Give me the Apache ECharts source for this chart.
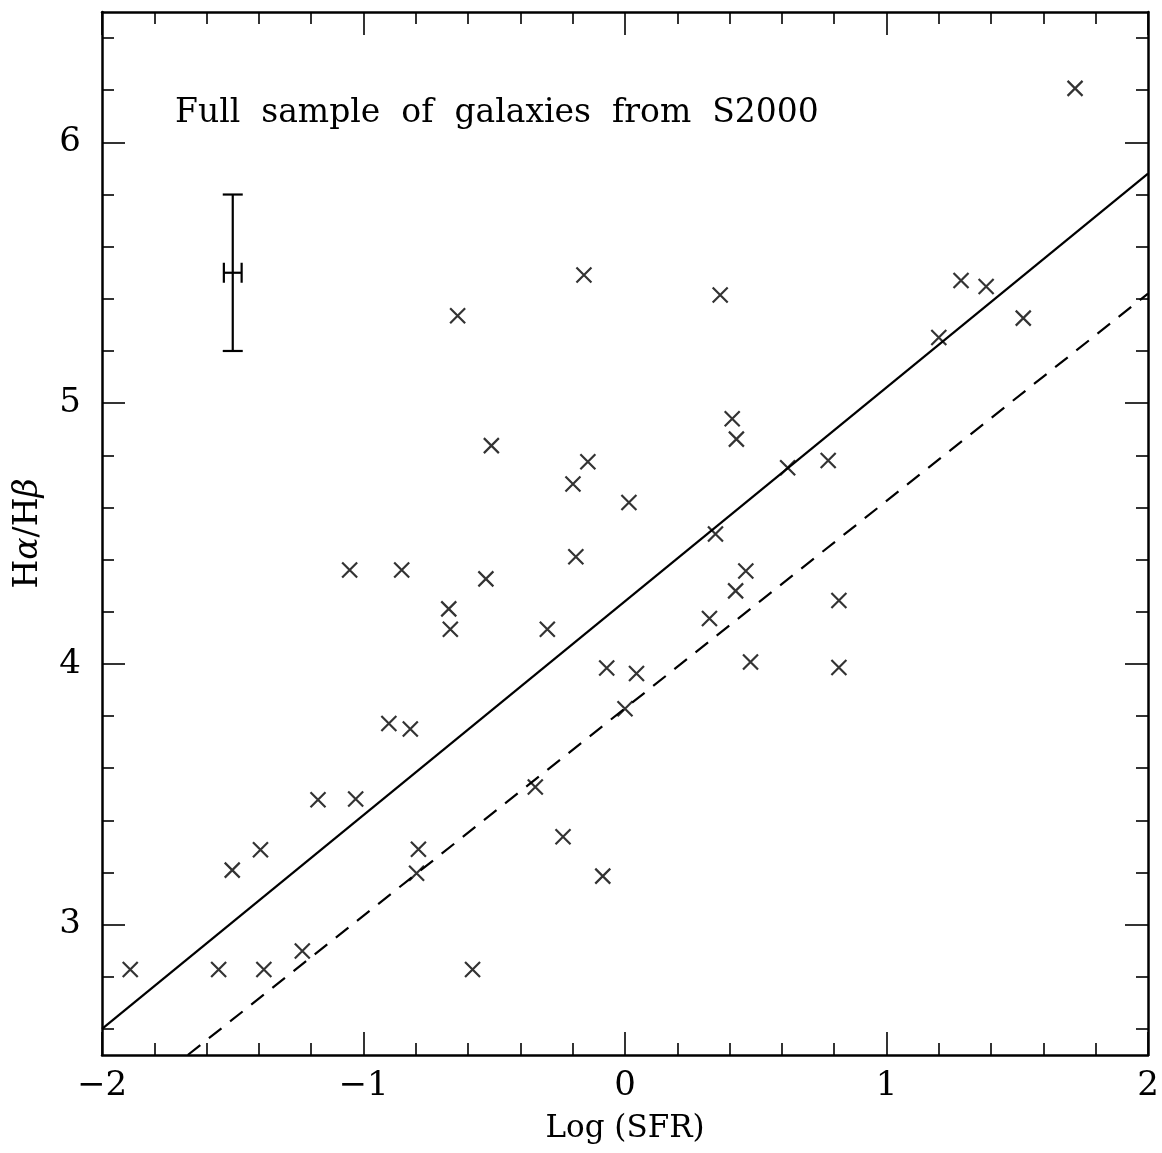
<!DOCTYPE html>
<html><head><meta charset="utf-8">
<script src="https://cdn.jsdelivr.net/npm/echarts@6/dist/echarts.min.js"></script>
<style>html,body{margin:0;padding:0;background:#fff}#c{width:1162px;height:1153px}</style>
</head><body><div id="c"></div>
<script>
// ---- data ----
const logSFR = [-1.892,-1.554,-1.381,-1.234,-0.583,-1.502,-1.394,-1.174,-1.030,-0.790,
  -0.797,-0.903,-0.821,-0.343,-0.237,-0.085,0.000,-0.070,0.044,-0.297,
  -0.674,-0.668,-1.053,-0.854,-0.532,-0.188,-0.199,-0.142,0.015,-0.511,
  -0.640,-0.157,0.364,0.410,0.426,0.622,0.777,0.346,0.462,0.423,
  0.323,0.480,0.818,0.818,1.200,1.285,1.381,1.523,1.721];
const balmer = [2.828,2.828,2.828,2.899,2.828,3.209,3.287,3.479,3.482,3.289,
  3.197,3.771,3.750,3.528,3.337,3.186,3.828,3.984,3.963,4.133,
  4.211,4.133,4.360,4.360,4.326,4.411,4.690,4.775,4.619,4.837,
  5.335,5.491,5.415,4.940,4.862,4.752,4.780,4.498,4.356,4.280,
  4.174,4.007,4.243,3.986,5.252,5.470,5.447,5.326,6.207];
const solidX = [-2, 2];
const solidY = [2.60, 5.88];
const dashX = [-1.672, 2];
const dashY = [2.5, 5.42];
const errX = [-1.5], errY = [5.5], errDX = [0.034], errDY = [0.3];
const yMajorTicks = [3, 4, 5, 6];
const yMinorTicks = [2.6,2.8,3.2,3.4,3.6,3.8,4.2,4.4,4.6,4.8,5.2,5.4,5.6,5.8,6.2,6.4];
const titleWords = ['Full', 'sample', 'of', 'galaxies', 'from', 'S2000'];
const xName = 'Log (SFR)';

// ---- chart ----
const FONT = 'DejaVu Serif';
const chart = echarts.init(document.getElementById('c'), null, {renderer: 'canvas'});
const lineCol = '#000';
const majorLen = 23, minorLen = 12;
const minusFmt = v => (v < 0 ? '\u2212' + Math.abs(v) : String(v));

function xAx(pos, showLabel) {
  return {
    type: 'value', position: pos, min: -2, max: 2, interval: 1,
    axisLine: {show: true, onZero: false, lineStyle: {color: lineCol, width: 2.5}},
    axisTick: {show: true, inside: true, length: majorLen, lineStyle: {color: lineCol, width: 1.6}},
    minorTick: {show: true, splitNumber: 5, length: minorLen, lineStyle: {color: lineCol, width: 1.6}},
    splitLine: {show: false},
    axisLabel: {show: showLabel, formatter: minusFmt, color: '#000', fontFamily: FONT, fontSize: 34, margin: 14},
    name: showLabel ? xName : '', nameLocation: 'middle', nameGap: 58,
    nameTextStyle: {color: '#000', fontFamily: FONT, fontSize: 31}
  };
}
function yAx(pos, ticks, len, showLabel, showLine, named) {
  const o = {
    type: 'value', position: pos, min: 2.5, max: 6.5,
    axisLine: {show: showLine, onZero: false, lineStyle: {color: lineCol, width: 2.5}},
    axisTick: {show: true, inside: true, length: len, customValues: ticks, lineStyle: {color: lineCol, width: 1.6}},
    splitLine: {show: false},
    axisLabel: {show: showLabel, customValues: ticks, color: '#000', fontFamily: FONT, fontSize: 34, margin: 21},
  };
  if (named) {
    o.name = '{r|H}{i|\u03B1}{r|/H}{i|\u03B2}';
    o.nameLocation = 'middle';
    o.nameGap = 57;
    o.nameTextStyle = {color: '#000', fontFamily: FONT, fontSize: 33,
      rich: {r: {fontFamily: FONT, fontSize: 33, color: '#000'},
             i: {fontFamily: FONT, fontSize: 33, fontStyle: 'italic', color: '#000'}}};
  }
  return o;
}

const option = {
  backgroundColor: '#fff',
  animation: false,
  title: {text: titleWords.join('  '), left: 170, top: 92,
    textStyle: {fontFamily: FONT, fontWeight: 'normal', fontSize: 33, color: '#000'}},
  grid: {left: 102, right: 14, top: 12, bottom: 98, containLabel: false},
  xAxis: [xAx('bottom', true), xAx('top', false)],
  yAxis: [
    yAx('left', yMajorTicks, majorLen, true, true, true),
    yAx('left', yMinorTicks, minorLen, false, false, false),
    yAx('right', yMajorTicks, majorLen, false, true, false),
    yAx('right', yMinorTicks, minorLen, false, false, false)
  ],
  series: [
    {type: 'scatter', xAxisIndex: 0, yAxisIndex: 0,
     data: logSFR.map((x, i) => [x, balmer[i]]),
     symbol: 'path://M0,0L10,10M0,10L10,0', symbolSize: 15,
     itemStyle: {color: 'transparent', borderColor: '#000', borderWidth: 2.2}},
    {type: 'line', xAxisIndex: 0, yAxisIndex: 0, showSymbol: false, symbol: 'none',
     data: solidX.map((x, i) => [x, solidY[i]]),
     lineStyle: {color: '#000', width: 2.2}},
    {type: 'line', xAxisIndex: 0, yAxisIndex: 0, showSymbol: false, symbol: 'none',
     data: dashX.map((x, i) => [x, dashY[i]]),
     lineStyle: {color: '#000', width: 2.2, type: [16, 11]}},
    {type: 'custom', xAxisIndex: 0, yAxisIndex: 0,
     data: errX.map((x, i) => [x, errY[i], errDX[i], errDY[i]]),
     renderItem: function (params, api) {
       const x = api.value(0), y = api.value(1), dx = api.value(2), dy = api.value(3);
       const t = api.coord([x, y + dy]), b = api.coord([x, y - dy]);
       const l = api.coord([x - dx, y]), r = api.coord([x + dx, y]);
       const cap = 10;
       const st = {stroke: '#000', lineWidth: 2.2};
       const seg = (x1, y1, x2, y2) => ({type: 'line', shape: {x1, y1, x2, y2}, style: st});
       return {type: 'group', children: [
         seg(t[0], t[1], b[0], b[1]),
         seg(t[0] - cap, t[1], t[0] + cap, t[1]),
         seg(b[0] - cap, b[1], b[0] + cap, b[1]),
         seg(l[0], l[1], r[0], r[1]),
         seg(l[0], l[1] - cap, l[0], l[1] + cap),
         seg(r[0], r[1] - cap, r[0], r[1] + cap)
       ]};
     }}
  ]
};
chart.setOption(option);
</script></body></html>
